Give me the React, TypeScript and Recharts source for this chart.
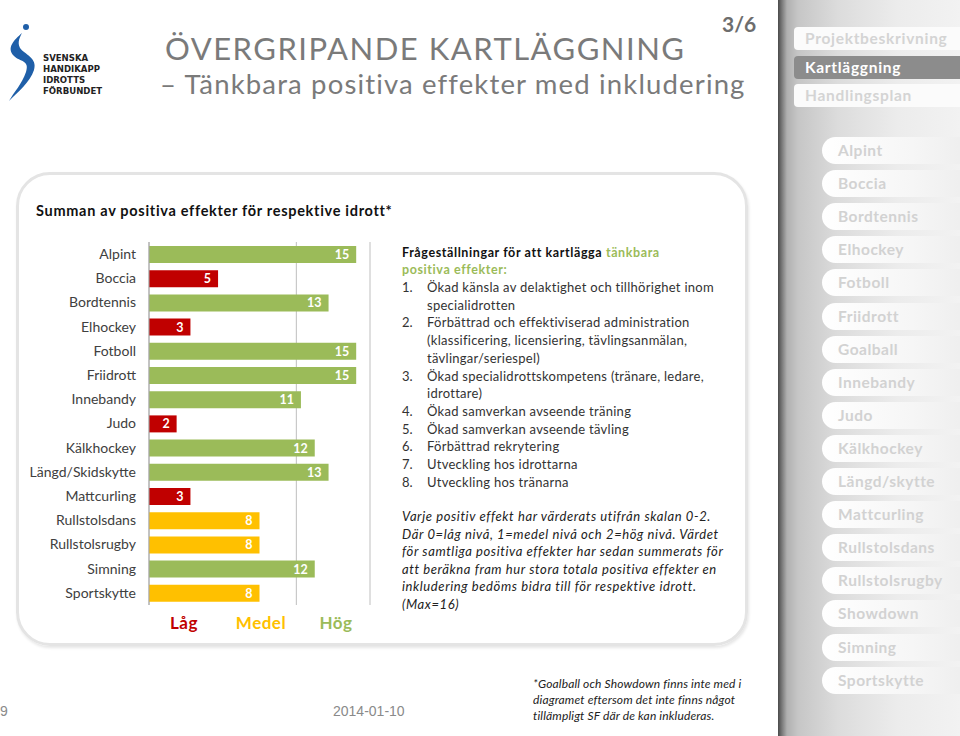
import React from "react";
import { BarChart, Bar, XAxis, YAxis, CartesianGrid, Cell, LabelList } from "recharts";

const categories = [
  "Alpint", "Boccia", "Bordtennis", "Elhockey", "Fotboll", "Friidrott", "Innebandy", "Judo",
  "Kälkhockey", "Längd/Skidskytte", "Mattcurling", "Rullstolsdans", "Rullstolsrugby", "Simning", "Sportskytte",
];
const values = [15, 5, 13, 3, 15, 15, 11, 2, 12, 13, 3, 8, 8, 12, 8];
const levels = ["Hög", "Låg", "Hög", "Låg", "Hög", "Hög", "Hög", "Låg", "Hög", "Hög", "Låg", "Medel", "Medel", "Hög", "Medel"];
const levelNames = ["Låg", "Medel", "Hög"];
const levelColors: Record<string, string> = { "Låg": "#C00000", "Medel": "#FFC000", "Hög": "#9BBB59" };
const xTicks = [0, 16 / 3, 32 / 3];

const questions = [
  ["1.", "Ökad känsla av delaktighet och tillhörighet inom", "specialidrotten"],
  ["2.", "Förbättrad och effektiviserad administration", "(klassificering, licensiering, tävlingsanmälan,", "tävlingar/seriespel)"],
  ["3.", "Ökad specialidrottskompetens (tränare, ledare,", "idrottare)"],
  ["4.", "Ökad samverkan avseende träning"],
  ["5.", "Ökad samverkan avseende tävling"],
  ["6.", "Förbättrad rekrytering"],
  ["7.", "Utveckling hos idrottarna"],
  ["8.", "Utveckling hos tränarna"],
];
const noteLines = [
  "Varje positiv effekt har värderats utifrån skalan 0-2.",
  "Där 0=låg nivå, 1=medel nivå och 2=hög nivå. Värdet",
  "för samtliga positiva effekter har sedan summerats för",
  "att beräkna fram hur stora totala positiva effekter en",
  "inkludering bedöms bidra till för respektive idrott.",
  "(Max=16)",
];
const footLines = [
  "*Goalball och Showdown finns inte med i",
  "diagramet eftersom det inte finns något",
  "tillämpligt SF där de kan inkluderas.",
];
const topMenu = ["Projektbeskrivning", "Kartläggning", "Handlingsplan"];
const sportMenu = [
  "Alpint", "Boccia", "Bordtennis", "Elhockey", "Fotboll", "Friidrott", "Goalball", "Innebandy", "Judo",
  "Kälkhockey", "Längd/skytte", "Mattcurling", "Rullstolsdans", "Rullstolsrugby", "Showdown", "Simning", "Sportskytte",
];

const data = categories.map((c, i) => ({ name: c, value: values[i], level: levels[i] }));
const FONT = "Lato, 'Open Sans', sans-serif";

export default function App() {
  const qLines: { num: string; text: string }[] = [];
  questions.forEach((q) => {
    q.slice(1).forEach((t, j) => qLines.push({ num: j === 0 ? q[0] : "", text: t }));
  });
  return (
    <div style={{ position: "absolute", left: 0, top: 0, width: 960, height: 736, overflow: "hidden", background: "#fff", fontFamily: FONT }}>
      {/* Logo */}
      <svg style={{ position: "absolute", left: 0, top: 0 }} width={120} height={110}>
        <circle cx={26} cy={27} r={3} fill="#1f5fa8" />
        <path d="M22 33 C 14 40, 6 48, 14 56 C 20 62, 30 60, 26 72 C 22 84, 14 92, 9 101 C 18 92, 30 82, 34 70 C 38 58, 24 54, 20 48 C 17 42, 20 37, 22 33 Z" fill="#1f5fa8" />
        <g fontFamily="'DejaVu Sans Condensed', 'DejaVu Sans', sans-serif" fontWeight="bold" fontSize={9.5} fill="#222">
          <text x={43} y={61}>SVENSKA</text>
          <text x={43} y={72}>HANDIKAPP</text>
          <text x={43} y={83}>IDROTTS</text>
          <text x={43} y={94}>FÖRBUNDET</text>
        </g>
      </svg>

      {/* Titles */}
      <div style={{ position: "absolute", left: 165, top: 29, fontSize: 31, color: "#7a7a7a", whiteSpace: "nowrap", letterSpacing: 1.5 }}>ÖVERGRIPANDE KARTLÄGGNING</div>
      <div style={{ position: "absolute", left: 160, top: 67, fontSize: 27.5, color: "#7a7a7a", whiteSpace: "nowrap", letterSpacing: 1.15 }}>– Tänkbara positiva effekter med inkludering</div>
      <div style={{ position: "absolute", left: 722, top: 11, fontSize: 21, fontWeight: "bold", color: "#6d6d6d" }}>3/6</div>

      {/* Rounded box */}
      <div style={{ position: "absolute", left: 16, top: 172, width: 726, height: 468, border: "3px solid #e4e4e4", borderRadius: 34, boxShadow: "1px 2px 3px rgba(0,0,0,0.10)" }} />
      <div style={{ position: "absolute", left: 36, top: 202, fontSize: 14.5, fontWeight: "bold", color: "#111", whiteSpace: "nowrap", letterSpacing: 0.7 }}>Summan av positiva effekter för respektive idrott*</div>

      {/* Chart */}
      <div style={{ position: "absolute", left: 0, top: 0 }}>
        <BarChart width={380} height={650} data={data} layout="vertical" margin={{ top: 242, right: 10, bottom: 45, left: 0 }}>
          <CartesianGrid horizontal={false} vertical={true} stroke="#bfbfbf" />
          <XAxis type="number" domain={[0, 16]} ticks={xTicks} hide />
          <YAxis
            type="category"
            dataKey="name"
            width={149}
            tickLine={false}
            tickSize={6}
            tickMargin={7}
            axisLine={{ stroke: "#a6a6a6" }}
            tick={{ fill: "#404040", fontSize: 14, fontFamily: FONT }}
            interval={0}
          />
          <Bar dataKey="value" barSize={17} isAnimationActive={false}>
            {data.map((d, i) => (
              <Cell key={i} fill={levelColors[d.level]} />
            ))}
            <LabelList dataKey="value" position="insideRight" offset={7} fill="#fff" fontWeight="bold" fontSize={12.5} fontFamily={FONT} />
          </Bar>
        </BarChart>
      </div>

      {/* Level legend */}
      {levelNames.map((n, i) => (
        <div key={n} style={{ position: "absolute", left: [184, 261, 336][i], top: 612, transform: "translateX(-50%)", fontSize: 17, fontWeight: "bold", color: levelColors[n], letterSpacing: 0.5 }}>{n}</div>
      ))}

      {/* Questions */}
      <div style={{ position: "absolute", left: 402, top: 245, fontSize: 12.5, fontWeight: "bold", color: "#111", whiteSpace: "nowrap", letterSpacing: 0.6 }}>
        Frågeställningar för att kartlägga <span style={{ color: "#9BBB59" }}>tänkbara</span>
      </div>
      <div style={{ position: "absolute", left: 402, top: 262, fontSize: 12.5, fontWeight: "bold", color: "#9BBB59", whiteSpace: "nowrap", letterSpacing: 0.6 }}>positiva effekter:</div>
      {qLines.map((l, i) => (
        <React.Fragment key={i}>
          {l.num && <div style={{ position: "absolute", left: 402, top: 279 + i * 17.7, fontSize: 13, color: "#333" }}>{l.num}</div>}
          <div style={{ position: "absolute", left: 427, top: 279 + i * 17.7, fontSize: 13, color: "#333", whiteSpace: "nowrap", letterSpacing: 0.28 }}>{l.text}</div>
        </React.Fragment>
      ))}
      {noteLines.map((t, i) => (
        <div key={i} style={{ position: "absolute", left: 402, top: 508 + i * 17.6, fontSize: 13, fontStyle: "italic", color: "#222", whiteSpace: "nowrap", letterSpacing: 0.6 }}>{t}</div>
      ))}

      {/* Footer */}
      <div style={{ position: "absolute", left: 0, top: 703, fontSize: 14, color: "#8a8a8a", fontFamily: "'Liberation Sans', Arial, sans-serif" }}>9</div>
      <div style={{ position: "absolute", left: 333, top: 703, fontSize: 14, color: "#8a8a8a", fontFamily: "'Liberation Sans', Arial, sans-serif" }}>2014-01-10</div>
      {footLines.map((t, i) => (
        <div key={i} style={{ position: "absolute", left: 533, top: 676 + i * 16, fontSize: 12, fontStyle: "italic", color: "#222", whiteSpace: "nowrap", letterSpacing: 0.15 }}>{t}</div>
      ))}

      {/* Sidebar */}
      <div style={{ position: "absolute", left: 778, top: 0, width: 182, height: 736, background: "linear-gradient(to right, #4a4a4a 0px, #7a7a7a 4px, #b0b0b0 9px, #c6c6c6 20px, #dcdcdc 60px, #ececec 120px, #f2f2f2 182px)" }} />
      {topMenu.map((t, i) => (
        <div key={t} style={{ position: "absolute", left: 794, top: 27 + i * 28.5, width: 180, height: 23, borderRadius: 4, background: i === 1 ? "#8c8c8c" : "#fbfbfb", color: i === 1 ? "#fff" : "#d4d4d4", fontSize: 15.5, fontWeight: "bold", lineHeight: "23px", paddingLeft: 11, boxSizing: "border-box", whiteSpace: "nowrap", letterSpacing: 0.7 }}>{t}</div>
      ))}
      {sportMenu.map((t, i) => (
        <div key={t} style={{ position: "absolute", left: 822, top: 137 + i * 33.1, width: 150, height: 27, borderRadius: 14, background: "linear-gradient(to right, #ffffff, #f6f6f6 60%, #ededed)", color: "#d2d2d2", fontSize: 15.5, fontWeight: "bold", lineHeight: "27px", paddingLeft: 16, boxSizing: "border-box", whiteSpace: "nowrap", letterSpacing: 0.5 }}>{t}</div>
      ))}
    </div>
  );
}
